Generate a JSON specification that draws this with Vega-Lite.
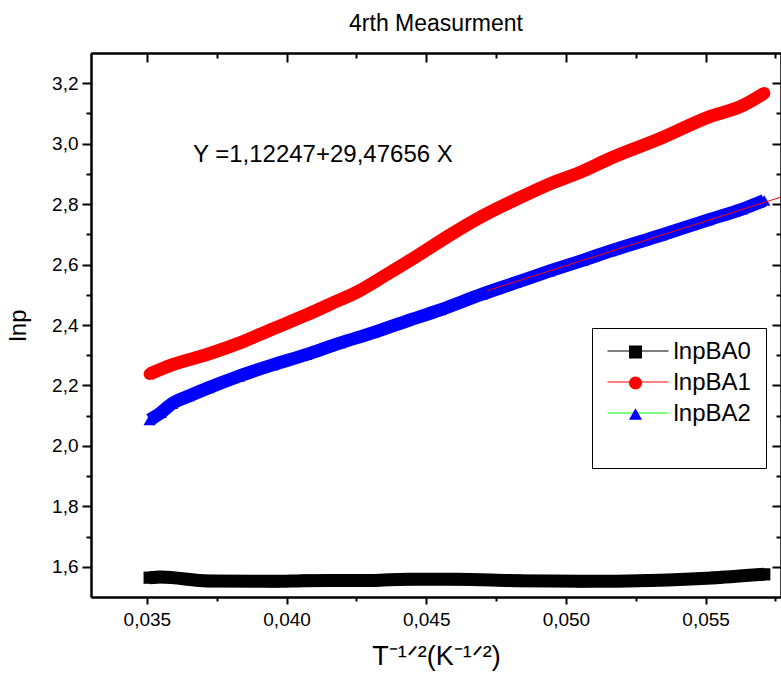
{
  "$schema": "https://vega.github.io/schema/vega-lite/v6.json",
  "width": 690,
  "height": 544,
  "autosize": "none",
  "padding": {"left": 91, "top": 53, "right": 0, "bottom": 83},
  "background": "white",
  "title": {"text": "4rth Measurment", "fontSize": 23, "font": "Liberation Sans", "fontWeight": "normal", "color": "black", "offset": 16, "anchor": "middle"},
  "config": {
    "view": {"stroke": null},
    "axis": {"domainColor": "black", "domainWidth": 2, "tickColor": "black", "tickWidth": 2, "grid": false, "labelFont": "Liberation Sans", "titleFont": "Liberation Sans", "labelColor": "black", "titleColor": "black", "titleFontWeight": "normal"},
    "legend": {"labelFont": "Liberation Sans", "titleFont": "Liberation Sans"}
  },
  "datasets": {
    "series": [
      {"series": "lnpBA0", "x": 0.0351, "y": 1.564},
      {"series": "lnpBA0", "x": 0.0355, "y": 1.566},
      {"series": "lnpBA0", "x": 0.0372, "y": 1.553},
      {"series": "lnpBA0", "x": 0.0395, "y": 1.552},
      {"series": "lnpBA0", "x": 0.0407, "y": 1.554},
      {"series": "lnpBA0", "x": 0.0431, "y": 1.555},
      {"series": "lnpBA0", "x": 0.0443, "y": 1.559},
      {"series": "lnpBA0", "x": 0.0461, "y": 1.559},
      {"series": "lnpBA0", "x": 0.0482, "y": 1.554},
      {"series": "lnpBA0", "x": 0.0506, "y": 1.552},
      {"series": "lnpBA0", "x": 0.0530, "y": 1.555},
      {"series": "lnpBA0", "x": 0.0554, "y": 1.564},
      {"series": "lnpBA0", "x": 0.0571, "y": 1.575},
      {"series": "lnpBA1", "x": 0.0351, "y": 2.238},
      {"series": "lnpBA1", "x": 0.0359, "y": 2.268},
      {"series": "lnpBA1", "x": 0.0372, "y": 2.304},
      {"series": "lnpBA1", "x": 0.0383, "y": 2.340},
      {"series": "lnpBA1", "x": 0.0395, "y": 2.387},
      {"series": "lnpBA1", "x": 0.0407, "y": 2.433},
      {"series": "lnpBA1", "x": 0.0419, "y": 2.483},
      {"series": "lnpBA1", "x": 0.0425, "y": 2.508},
      {"series": "lnpBA1", "x": 0.0436, "y": 2.568},
      {"series": "lnpBA1", "x": 0.0447, "y": 2.630},
      {"series": "lnpBA1", "x": 0.0458, "y": 2.695},
      {"series": "lnpBA1", "x": 0.0470, "y": 2.760},
      {"series": "lnpBA1", "x": 0.0482, "y": 2.815},
      {"series": "lnpBA1", "x": 0.0494, "y": 2.866},
      {"series": "lnpBA1", "x": 0.0505, "y": 2.905},
      {"series": "lnpBA1", "x": 0.0516, "y": 2.952},
      {"series": "lnpBA1", "x": 0.0534, "y": 3.018},
      {"series": "lnpBA1", "x": 0.0551, "y": 3.088},
      {"series": "lnpBA1", "x": 0.0563, "y": 3.125},
      {"series": "lnpBA1", "x": 0.0571, "y": 3.167},
      {"series": "lnpBA2", "x": 0.0351, "y": 2.086},
      {"series": "lnpBA2", "x": 0.0355, "y": 2.110},
      {"series": "lnpBA2", "x": 0.0359, "y": 2.140},
      {"series": "lnpBA2", "x": 0.0365, "y": 2.165},
      {"series": "lnpBA2", "x": 0.0372, "y": 2.192},
      {"series": "lnpBA2", "x": 0.0383, "y": 2.231},
      {"series": "lnpBA2", "x": 0.0395, "y": 2.268},
      {"series": "lnpBA2", "x": 0.0407, "y": 2.302},
      {"series": "lnpBA2", "x": 0.0419, "y": 2.340},
      {"series": "lnpBA2", "x": 0.0431, "y": 2.375},
      {"series": "lnpBA2", "x": 0.0443, "y": 2.413},
      {"series": "lnpBA2", "x": 0.0455, "y": 2.450},
      {"series": "lnpBA2", "x": 0.0470, "y": 2.502},
      {"series": "lnpBA2", "x": 0.0482, "y": 2.540},
      {"series": "lnpBA2", "x": 0.0494, "y": 2.578},
      {"series": "lnpBA2", "x": 0.0506, "y": 2.614},
      {"series": "lnpBA2", "x": 0.0516, "y": 2.645},
      {"series": "lnpBA2", "x": 0.0534, "y": 2.697},
      {"series": "lnpBA2", "x": 0.0551, "y": 2.748},
      {"series": "lnpBA2", "x": 0.0563, "y": 2.783},
      {"series": "lnpBA2", "x": 0.0571, "y": 2.812}
    ],
    "fit": [
      {"x": 0.0472, "y": 2.5138},
      {"x": 0.0578, "y": 2.8262}
    ]
  },
  "resolve": {"axis": {"x": "independent", "y": "independent"}},
  "layer": [
    {
      "data": {"name": "series"},
      "mark": {"type": "line", "strokeWidth": 1, "interpolate": "monotone"},
      "encoding": {
        "x": {"field": "x", "type": "quantitative", "scale": {"domain": [0.033, 0.0577], "nice": false, "zero": false},
          "axis": {"orient": "bottom", "values": [0.035, 0.04, 0.045, 0.05, 0.055], "labelExpr": "replace(format(datum.value, '.3f'), '.', ',')", "tickSize": 7, "labelFontSize": 19, "labelPadding": 6, "title": "T⁻¹ᐟ²(K⁻¹ᐟ²)", "titleFontSize": 27, "titlePadding": 14}},
        "y": {"field": "y", "type": "quantitative", "scale": {"domain": [1.5, 3.3], "nice": false, "zero": false},
          "axis": {"orient": "left", "values": [1.6, 1.8, 2.0, 2.2, 2.4, 2.6, 2.8, 3.0, 3.2], "labelExpr": "replace(format(datum.value, '.1f'), '.', ',')", "tickSize": 9, "labelFontSize": 19, "labelPadding": 4, "title": "lnp", "titleFontSize": 24, "titlePadding": 21}},
        "stroke": {"field": "series", "type": "nominal",
          "scale": {"range": ["#000000", "#ff0000", "#00ff00"]},
          "legend": {"orient": "none", "legendX": 501, "legendY": 274, "title": null, "padding": 15, "symbolType": "stroke", "symbolSize": 3721, "symbolStrokeWidth": 1, "labelExpr": "''", "labelFontSize": 1, "labelOffset": 0, "clipHeight": 18, "rowPadding": 13}}
      }
    },
    {
      "data": {"name": "series"},
      "mark": {"type": "line", "strokeWidth": 13, "strokeJoin": "round", "interpolate": "monotone"},
      "encoding": {
        "x": {"field": "x", "type": "quantitative", "scale": {"domain": [0.033, 0.0577], "nice": false, "zero": false},
          "axis": {"orient": "top", "values": [0.035, 0.04, 0.045, 0.05, 0.055], "labels": false, "tickSize": -9, "title": null}},
        "y": {"field": "y", "type": "quantitative", "scale": {"domain": [1.5, 3.3], "nice": false, "zero": false},
          "axis": {"orient": "right", "values": [1.6, 1.8, 2.0, 2.2, 2.4, 2.6, 2.8, 3.0, 3.2], "labels": false, "tickSize": -9, "title": null}},
        "detail": {"field": "series", "type": "nominal"},
        "color": {"condition": [{"test": "datum.series === 'lnpBA0'", "value": "#000000"}, {"test": "datum.series === 'lnpBA1'", "value": "#ff0000"}], "value": "#0000ff"}
      }
    },
    {
      "data": {"name": "series"},
      "mark": {"type": "point", "filled": true, "size": 150, "opacity": 1},
      "encoding": {
        "x": {"field": "x", "type": "quantitative", "scale": {"domain": [0.033, 0.0577], "nice": false, "zero": false},
          "axis": {"orient": "bottom", "values": [0.0375, 0.0425, 0.0475, 0.0525, 0.0575], "labels": false, "tickSize": 4, "title": null}},
        "y": {"field": "y", "type": "quantitative", "scale": {"domain": [1.5, 3.3], "nice": false, "zero": false},
          "axis": {"orient": "left", "values": [1.7, 1.9, 2.1, 2.3, 2.5, 2.7, 2.9, 3.1], "labels": false, "tickSize": 5, "title": null}},
        "color": {"field": "series", "type": "nominal",
          "scale": {"domain": ["lnpBA0", "lnpBA1", "lnpBA2"], "range": ["#000000", "#ff0000", "#0000ff"]},
          "legend": {"orient": "none", "legendX": 501, "legendY": 275, "title": "\u00a0", "titleOrient": "bottom", "titleAnchor": "start", "titleAlign": "left", "titleLimit": 20, "titleFontSize": 22, "titlePadding": 6, "padding": 15, "strokeColor": "black", "symbolSize": 170, "symbolStrokeWidth": 0, "symbolOffset": 16.5, "labelOffset": 26, "labelFontSize": 24, "labelColor": "black", "labelLimit": 100, "clipHeight": 18, "rowPadding": 7}},
        "shape": {"field": "series", "type": "nominal",
          "scale": {"domain": ["lnpBA0", "lnpBA1", "lnpBA2"], "range": ["square", "circle", "triangle-up"]},
          "legend": {"orient": "none", "legendX": 501, "legendY": 275, "title": "\u00a0", "titleOrient": "bottom", "titleAnchor": "start", "titleAlign": "left", "titleLimit": 20, "titleFontSize": 22, "titlePadding": 6, "padding": 15, "strokeColor": "black", "symbolSize": 170, "symbolStrokeWidth": 0, "symbolOffset": 16.5, "labelOffset": 26, "labelFontSize": 24, "labelColor": "black", "labelLimit": 100, "clipHeight": 18, "rowPadding": 7}}
      }
    },
    {
      "data": {"name": "fit"},
      "mark": {"type": "line", "color": "#ff0000", "strokeWidth": 1},
      "encoding": {
        "x": {"field": "x", "type": "quantitative", "scale": {"domain": [0.033, 0.0577], "nice": false, "zero": false},
          "axis": {"orient": "top", "values": [0.0375, 0.0425, 0.0475, 0.0525, 0.0575], "labels": false, "tickSize": -5, "title": null}},
        "y": {"field": "y", "type": "quantitative", "scale": {"domain": [1.5, 3.3], "nice": false, "zero": false},
          "axis": {"orient": "right", "values": [1.7, 1.9, 2.1, 2.3, 2.5, 2.7, 2.9, 3.1], "labels": false, "tickSize": -5, "title": null}}
      }
    },
    {
      "data": {"values": [{}]},
      "mark": {"type": "text", "fontSize": 24, "font": "Liberation Sans", "color": "black", "align": "center", "baseline": "middle"},
      "encoding": {
        "x": {"datum": 0.0413, "type": "quantitative", "axis": null},
        "y": {"datum": 2.962, "type": "quantitative", "axis": null},
        "text": {"value": "Y =1,12247+29,47656 X"}
      }
    }
  ]
}
